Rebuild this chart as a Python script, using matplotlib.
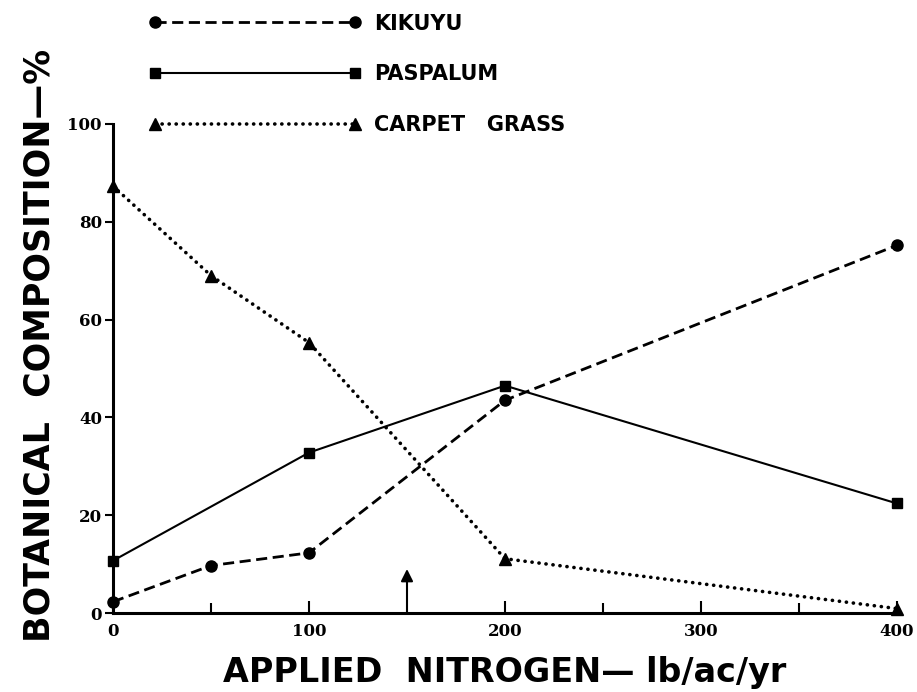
import matplotlib
matplotlib.use("Agg")
import matplotlib.pyplot as plt
from matplotlib.ticker import FixedLocator

# Data
nitrogen_k = [0, 50, 100, 200, 400]
kikuyu = [2.3, 9.7, 12.3, 43.5, 75.2]
nitrogen_p = [0, 100, 200, 400]
paspalum = [10.7, 32.8, 46.5, 22.4]
nitrogen_c = [0, 50, 100, 200, 400]
carpet = [87.3, 69.0, 55.3, 11.1, 0.9]
arrow_x = 150
arrow_top = 9.0
xticks = [0, 100, 200, 300, 400]
xminor = [50, 250, 350]
yticks = [0, 20, 40, 60, 80, 100]

fig = plt.figure(figsize=(9.17, 6.92), dpi=100)
ax = fig.add_axes([113/917, 79/692, 784/917, 489/692])

l1, = ax.plot(nitrogen_k, kikuyu, color='black', lw=2.0, ls=(0, (4, 2)),
              marker='o', ms=8, clip_on=False, zorder=3)
l2, = ax.plot(nitrogen_p, paspalum, color='black', lw=1.5, ls='-',
              marker='s', ms=7.5, clip_on=False, zorder=3)
l3, = ax.plot(nitrogen_c, carpet, color='black', lw=2.6, ls=(0, (0.05, 1.9)),
              dash_capstyle='round', marker='^', ms=8, clip_on=False, zorder=3)

ax.annotate('', xy=(arrow_x, arrow_top), xytext=(arrow_x, 0),
            arrowprops=dict(arrowstyle='-|>', color='black', lw=1.5,
                            mutation_scale=18, shrinkA=0, shrinkB=0))

ax.set_xlim(0, 400)
ax.set_ylim(0, 100)
for s in ['top', 'right']:
    ax.spines[s].set_visible(False)
ax.spines['left'].set_linewidth(2.2)
ax.spines['bottom'].set_linewidth(2.2)

ax.set_xticks(xticks)
ax.xaxis.set_minor_locator(FixedLocator(xminor))
ax.set_yticks(yticks)
ax.tick_params(axis='x', which='major', direction='in', length=9, width=1.5, pad=7)
ax.tick_params(axis='x', which='minor', direction='in', length=7, width=1.5)
ax.tick_params(axis='y', direction='out', length=6, width=1.5, pad=2)
for lab in ax.get_xticklabels() + ax.get_yticklabels():
    lab.set_family('DejaVu Serif')
    lab.set_fontsize(12)
    lab.set_fontweight('bold')

ax.set_xlabel('APPLIED  NITROGEN\u2014 lb/ac/yr', fontsize=24, fontweight='heavy',
              family='DejaVu Sans', labelpad=12)
ax.set_ylabel('BOTANICAL  COMPOSITION\u2014%', fontsize=25, fontweight='heavy',
              family='DejaVu Sans')
ax.yaxis.set_label_coords(-0.072, 0.548)

leg = fig.legend([l1, l2, l3], ['KIKUYU', 'PASPALUM', 'CARPET   GRASS'],
                 loc='upper left', bbox_to_anchor=(130/917, 1 + 5/692),
                 frameon=False, numpoints=2, handlelength=10.2,
                 labelspacing=1.47, handletextpad=0.6,
                 prop=dict(family='DejaVu Sans', weight='bold', size=15))

fig.savefig('out.png', dpi=100)
